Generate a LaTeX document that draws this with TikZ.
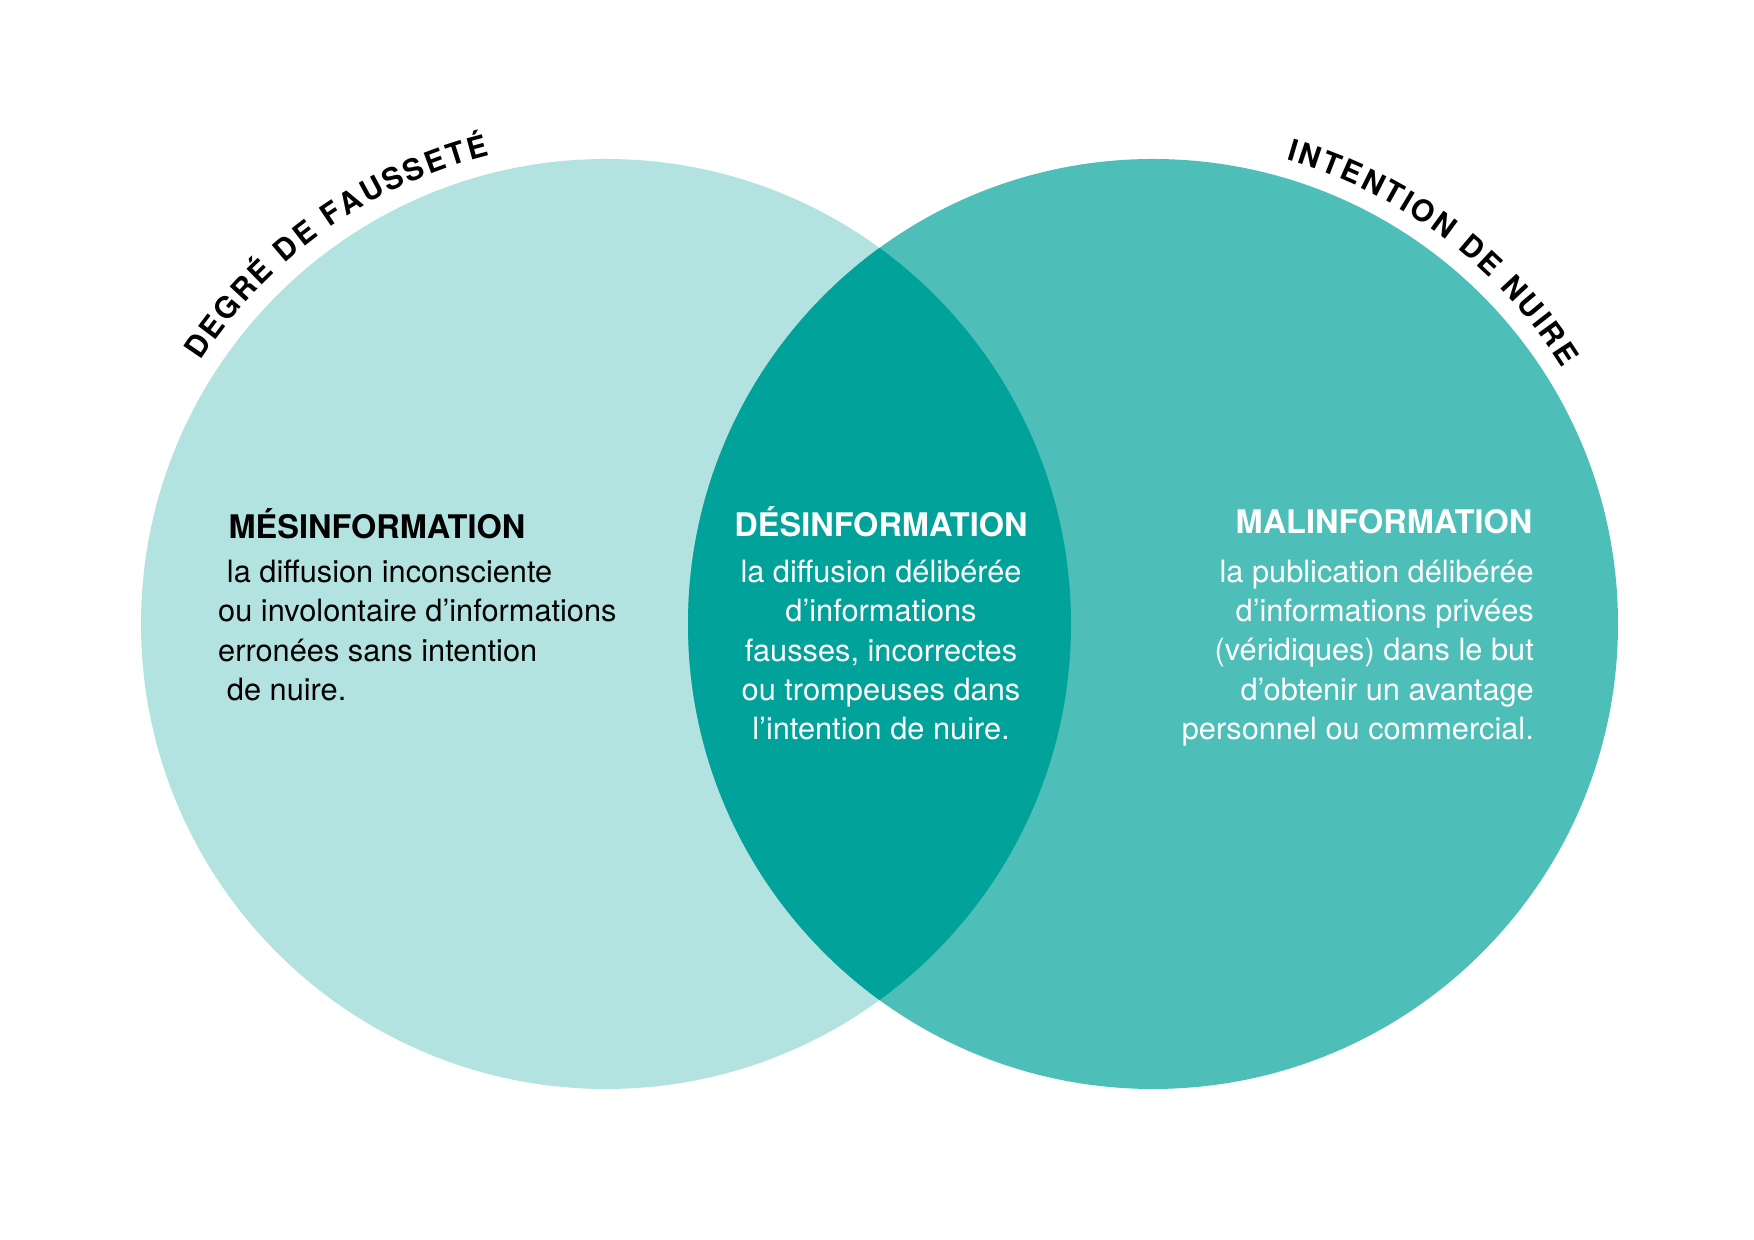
\documentclass[tikz,border=0pt]{standalone}
\usepackage{fontspec}
\setmainfont{TeX Gyre Heros}
\usetikzlibrary{decorations.text}
\definecolor{lightteal}{HTML}{B2E3E0}
\definecolor{midteal}{HTML}{4DBFB8}
\definecolor{darkteal}{HTML}{00A29A}
\tikzset{
  heading/.style={font=\fontsize{18.5}{22}\selectfont\bfseries},
  body/.style={font=\fontsize{17.5}{22.3}\selectfont},
  arclabel/.style={decorate,decoration={text along path,text align=fit to path,
    text={|\fontsize{17}{20}\selectfont\bfseries|#1}}}
}
\begin{document}
\begin{tikzpicture}[x=0.02cm,y=0.02cm]
 \useasboundingbox (0,0) rectangle (1754,1240);

% circles
 \fill[lightteal] (606,616) circle (465);
 \fill[midteal] (1153,616) circle (465);
 \begin{scope}
  \clip (606,616) circle (465);
  \fill[darkteal] (1153,616) circle (465);
 \end{scope}

% arc labels
 \path[arclabel={DEGRÉ DE FAUSSETÉ}] (606,616) ++(147:483) arc (147:104:483);
 \path[arclabel={INTENTION DE NUIRE}] (1153,616) ++(74:483) arc (74:32:483);

% headings
 \node[heading,text=black] (mis) at (377,716) {MÉSINFORMATION};
 \node[heading,text=white] (dis) at (881,718) {DÉSINFORMATION};
 \node[heading,text=white] (mal) at (1384,718) {MALINFORMATION};

% texts
 \node[body,align=left,text=black,anchor=north west] (mistext) at (212,686)
  {\hspace{5pt}la diffusion inconsciente\\ou involontaire d’informations\\erronées sans intention\\\hspace{5pt}de nuire.};
 \node[body,align=center,text=white,anchor=north] (distext) at (881,686)
  {la diffusion délibérée\\d’informations\\fausses, incorrectes\\ou trompeuses dans\\l’intention de nuire.};
 \node[body,align=right,text=white,anchor=north east] (maltext) at (1540,686)
  {la publication délibérée\\d’informations privées\\(véridiques) dans le but\\d’obtenir un avantage\\personnel ou commercial.};
\end{tikzpicture}
\end{document}
